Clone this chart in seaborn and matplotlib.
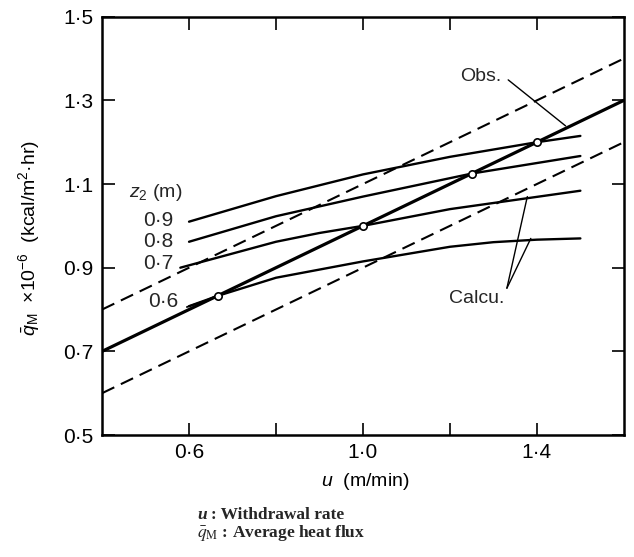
import matplotlib
matplotlib.use("Agg")
import matplotlib.pyplot as plt
import seaborn as sns
import numpy as np
import pandas as pd

# ---- data ----
obs_u = [0.4, 1.6]
obs_q = [0.70, 1.30]
upper_u = [0.4, 1.6]
upper_q = [0.80, 1.40]
lower_u = [0.4, 1.6]
lower_q = [0.60, 1.20]

z09_u = [0.60, 0.80, 1.00, 1.20, 1.40, 1.50]
z09_q = [1.010, 1.071, 1.123, 1.165, 1.200, 1.215]
z08_u = [0.60, 0.80, 1.00, 1.25, 1.50]
z08_q = [0.962, 1.023, 1.070, 1.125, 1.167]
z07_u = [0.58, 0.80, 0.90, 1.00, 1.20, 1.50]
z07_q = [0.900, 0.962, 0.983, 1.000, 1.040, 1.084]
z06_u = [0.60, 0.667, 0.80, 1.00, 1.20, 1.30, 1.40, 1.50]
z06_q = [0.808, 0.833, 0.876, 0.915, 0.950, 0.961, 0.967, 0.970]

pts_u = [0.667, 1.00, 1.25, 1.40]
pts_q = [0.833, 1.00, 1.125, 1.20]

z_labels = ["0·9", "0·8", "0·7", "0·6"]
z_label_q = [1.014, 0.962, 0.910, 0.819]
xticks_major = [0.6, 1.0, 1.4]
xtick_labels = ["0·6", "1·0", "1·4"]
xticks_minor = [0.8, 1.2]
yticks = [0.5, 0.7, 0.9, 1.1, 1.3, 1.5]
ytick_labels = ["0·5", "0·7", "0·9", "1·1", "1·3", "1·5"]

sns.set_theme(style="ticks")
plt.rcParams["font.family"] = ["Liberation Sans", "DejaVu Sans"]
plt.rcParams["mathtext.fontset"] = "custom"
plt.rcParams["mathtext.it"] = "Liberation Sans:italic"
plt.rcParams["mathtext.rm"] = "Liberation Sans"

fig = plt.figure(figsize=(6.34, 5.57), dpi=100)
ax = fig.add_axes([0.161, 0.219, 0.823, 0.751])

dash = (6.5, 3.5)
for u, q in [(upper_u, upper_q), (lower_u, lower_q)]:
    sns.lineplot(x=u, y=q, ax=ax, color="black", lw=1.5, linestyle=(0, dash),
                 estimator=None, sort=False)
sns.lineplot(x=obs_u, y=obs_q, ax=ax, color="black", lw=2.3, estimator=None, sort=False)
for u, q in [(z09_u, z09_q), (z08_u, z08_q), (z07_u, z07_q), (z06_u, z06_q)]:
    sns.lineplot(x=u, y=q, ax=ax, color="black", lw=1.7, estimator=None, sort=False)
sns.scatterplot(x=pts_u, y=pts_q, ax=ax, marker="o", s=28, facecolor="white",
                edgecolor="black", linewidth=1.2, zorder=5)

ax.set_xlim(0.4, 1.6)
ax.set_ylim(0.5, 1.5)
ax.set_xticks(xticks_major)
ax.set_xticklabels(xtick_labels)
ax.set_xticks(xticks_minor, minor=True)
ax.set_yticks(yticks)
ax.set_yticklabels(ytick_labels)
ax.tick_params(which="both", direction="in", length=9, width=1.2, top=True, right=True,
               labelsize=15, color="black", labelcolor="black", pad=6)
for s in ax.spines.values():
    s.set_visible(True)
    s.set_linewidth(1.8)
    s.set_color("black")

# z2 labels
ax.text(0.524, 1.079, r"$z_2$ (m)", fontsize=14, ha="center", va="center")
for lab, q in zip(z_labels, z_label_q):
    xpos = 0.529 if lab != "0·6" else 0.54
    ax.text(xpos, q, lab, fontsize=15, ha="center", va="center")
ax.plot([0.595, 0.66], [0.806, 0.829], color="black", lw=1.3)

# Obs annotation
ax.text(1.27, 1.356, "Obs.", fontsize=14, ha="center", va="center")
ax.plot([1.334, 1.466], [1.349, 1.239], color="black", lw=1.0)
# Calcu annotation
ax.text(1.262, 0.827, "Calcu.", fontsize=14, ha="center", va="center")
ax.plot([1.331, 1.378], [0.851, 1.070], color="black", lw=1.0)
ax.plot([1.331, 1.386], [0.851, 0.970], color="black", lw=1.0)

ax.set_xlabel(r"$u$  (m/min)", fontsize=14, color="black")
ax.xaxis.set_label_coords(0.505, -0.085)
ax.set_ylabel(r"$\bar{q}_{\mathrm{M}}$  ×10$^{-6}$  (kcal/m$^2$·hr)", fontsize=14, color="black")
ax.yaxis.set_label_coords(-0.115, 0.47)

fig.text(0.311, 0.075, "u", fontsize=12.5, family="Liberation Serif", fontweight="bold",
         style="italic", ha="left", va="center")
fig.text(0.333, 0.075, ": Withdrawal rate", fontsize=12.5, family="Liberation Serif",
         fontweight="bold", ha="left", va="center")
fig.text(0.311, 0.043, r"$\bar{q}_{\rm M}$ : Average heat flux", fontsize=12.5,
         family="Liberation Serif", fontweight="bold", ha="left", va="center",
         math_fontfamily="stix")

fig.savefig("out.png", dpi=100)
